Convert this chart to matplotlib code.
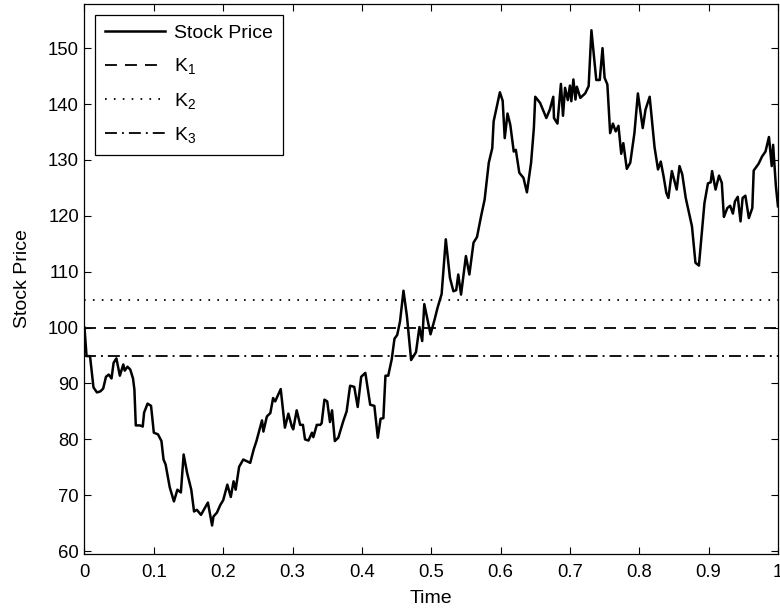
import matplotlib
matplotlib.use("Agg")
import matplotlib.pyplot as plt

plt.rcParams["font.family"] = ["Liberation Sans", "DejaVu Sans"]
plt.rcParams["mathtext.fontset"] = "custom"
plt.rcParams["mathtext.rm"] = "Liberation Sans"
plt.rcParams["mathtext.it"] = "Liberation Sans:italic"
plt.rcParams["mathtext.bf"] = "Liberation Sans:bold"
plt.rcParams["lines.scale_dashes"] = False

# Simulated stock price path (time in years)
time = [0.000, 0.003, 0.008, 0.013, 0.018, 0.023, 0.027, 0.031, 0.035, 0.039,
        0.042, 0.046, 0.051, 0.056, 0.058, 0.062, 0.066, 0.070, 0.072, 0.074,
        0.080, 0.084, 0.086, 0.091, 0.096, 0.100, 0.106, 0.111, 0.114, 0.117,
        0.123, 0.129, 0.134, 0.139, 0.143, 0.148, 0.154, 0.158, 0.162, 0.168,
        0.178, 0.184, 0.186, 0.191, 0.196, 0.200, 0.206, 0.211, 0.215, 0.218,
        0.223, 0.229, 0.239, 0.244, 0.248, 0.256, 0.258, 0.263, 0.268, 0.272,
        0.275, 0.283, 0.289, 0.294, 0.299, 0.301, 0.306, 0.311, 0.315, 0.318,
        0.323, 0.328, 0.330, 0.335, 0.340, 0.342, 0.346, 0.350, 0.354, 0.357,
        0.361, 0.366, 0.373, 0.378, 0.383, 0.389, 0.394, 0.399, 0.405, 0.412,
        0.418, 0.423, 0.427, 0.431, 0.434, 0.438, 0.443, 0.447, 0.451, 0.455,
        0.460, 0.465, 0.471, 0.478, 0.483, 0.487, 0.490, 0.499, 0.505, 0.509,
        0.515, 0.521, 0.527, 0.532, 0.536, 0.539, 0.543, 0.550, 0.555, 0.561,
        0.566, 0.572, 0.577, 0.583, 0.588, 0.590, 0.599, 0.603, 0.606, 0.610,
        0.614, 0.619, 0.622, 0.627, 0.633, 0.638, 0.644, 0.648, 0.650, 0.657,
        0.666, 0.671, 0.676, 0.677, 0.682, 0.687, 0.690, 0.693, 0.697, 0.700,
        0.702, 0.705, 0.708, 0.710, 0.715, 0.722, 0.727, 0.731, 0.738, 0.743,
        0.747, 0.750, 0.754, 0.758, 0.762, 0.766, 0.770, 0.774, 0.777, 0.782,
        0.787, 0.793, 0.798, 0.805, 0.809, 0.815, 0.822, 0.827, 0.831, 0.835,
        0.839, 0.842, 0.847, 0.854, 0.858, 0.862, 0.867, 0.876, 0.881, 0.886,
        0.894, 0.899, 0.903, 0.905, 0.910, 0.915, 0.919, 0.922, 0.927, 0.931,
        0.935, 0.938, 0.942, 0.946, 0.949, 0.953, 0.958, 0.963, 0.965, 0.972,
        0.977, 0.982, 0.987, 0.991, 0.993, 0.997, 1.000]

price = [100.0, 94.9, 94.9, 89.3, 88.4, 88.6, 89.1, 91.2, 91.6, 90.9,
         93.7, 94.5, 91.4, 93.4, 92.3, 93.0, 92.5, 90.9, 88.9, 82.5,
         82.5, 82.3, 84.8, 86.4, 86.0, 81.2, 80.9, 79.7, 76.4, 75.5,
         71.4, 68.9, 71.0, 70.5, 77.3, 74.0, 71.0, 67.1, 67.4, 66.5,
         68.7, 64.6, 66.2, 66.9, 68.3, 69.1, 71.9, 69.7, 72.5, 71.0,
         75.1, 76.4, 75.8, 78.2, 79.7, 83.4, 81.4, 84.1, 84.7, 87.4,
         86.8, 89.0, 82.1, 84.6, 82.3, 81.8, 85.2, 82.6, 82.6, 80.0,
         79.8, 81.2, 80.4, 82.6, 82.6, 82.9, 87.1, 86.8, 83.1, 85.2,
         79.7, 80.3, 83.2, 85.0, 89.6, 89.4, 85.8, 91.2, 91.9, 86.2,
         86.0, 80.3, 83.7, 83.8, 91.4, 91.4, 94.3, 98.0, 98.7, 101.1,
         106.6, 102.0, 94.2, 95.6, 100.1, 97.6, 104.2, 98.8, 101.5, 103.5,
         106.0, 115.8, 108.9, 106.5, 106.7, 109.5, 105.9, 112.8, 109.5, 115.2,
         116.2, 120.0, 122.9, 129.5, 132.1, 136.9, 142.1, 140.6, 133.9, 138.3,
         136.3, 131.5, 131.8, 127.7, 126.8, 124.2, 129.5, 135.7, 141.3, 140.2,
         137.5, 139.0, 141.3, 137.5, 136.5, 143.6, 137.9, 142.9, 140.7, 143.3,
         140.5, 144.4, 140.8, 143.1, 141.1, 141.9, 143.2, 153.2, 144.3, 144.3,
         150.0, 144.7, 143.5, 134.8, 136.5, 135.1, 136.1, 131.1, 133.0, 128.4,
         129.5, 134.8, 141.9, 135.7, 139.0, 141.3, 132.3, 128.3, 129.7, 127.1,
         124.1, 123.2, 128.0, 124.7, 128.9, 127.4, 123.2, 118.1, 111.6, 111.1,
         122.3, 125.8, 126.0, 128.0, 124.7, 127.2, 125.9, 119.8, 121.4, 121.8,
         120.4, 122.6, 123.4, 119.0, 123.2, 123.6, 119.6, 121.4, 128.1, 129.3,
         130.6, 131.5, 134.1, 128.9, 132.7, 125.3, 121.7]

# Strike levels
strikes = [100, 105, 95]
strike_labels = ["K$_1$", "K$_2$", "K$_3$"]
strike_styles = [(0, (8.6, 5.8)), (0, (1.2, 5.2)), (0, (8.6, 3.6, 1.4, 3.6))]

xticks = [0, 0.1, 0.2, 0.3, 0.4, 0.5, 0.6, 0.7, 0.8, 0.9, 1]
xticklabels = ["0", "0.1", "0.2", "0.3", "0.4", "0.5", "0.6", "0.7", "0.8", "0.9", "1"]
yticks = [60, 70, 80, 90, 100, 110, 120, 130, 140, 150]

fig = plt.figure(figsize=(7.8, 6.13), dpi=100)
ax = fig.add_axes([0.1083, 0.0963, 0.8891, 0.8972])

ax.plot(time, price, color="black", lw=1.8, label="Stock Price")
for k, lab, ls in zip(strikes, strike_labels, strike_styles):
    ax.plot([time[0], time[-1]], [k, k], color="black", lw=1.3, linestyle=ls, label=lab)

ax.set_xlim(0, 1)
ax.set_ylim(59.5, 157.9)
ax.set_xticks(xticks)
ax.set_xticklabels(xticklabels)
ax.set_yticks(yticks)
ax.tick_params(direction="in", length=5, width=0.8, top=True, right=True,
               labelsize=13.3)
ax.tick_params(axis="x", pad=7)
ax.tick_params(axis="y", pad=4)
for s in ax.spines.values():
    s.set_linewidth(0.9)

ax.set_xlabel("Time", fontsize=14, labelpad=7)
ax.set_ylabel("Stock Price", fontsize=14, labelpad=12)

leg = ax.legend(loc="upper left", fontsize=14, frameon=True, fancybox=False,
                edgecolor="black", framealpha=1, borderaxespad=0.55,
                handlelength=3.1, labelspacing=0.74, borderpad=0.5,
                handletextpad=0.45)
leg.get_frame().set_linewidth(0.9)

fig.savefig("out.png", dpi=100)
